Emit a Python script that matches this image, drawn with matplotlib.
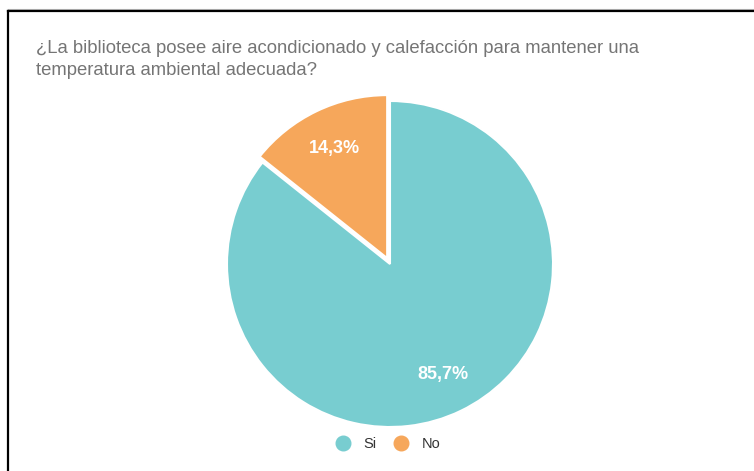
import matplotlib
matplotlib.use("Agg")
from matplotlib import pyplot as plt
from matplotlib.lines import Line2D

plt.rcParams['font.family'] = ['Liberation Sans', 'DejaVu Sans']

TITLE = "¿La biblioteca posee aire acondicionado y calefacción para mantener una\ntemperatura ambiental adecuada?"
labels = ["Si", "No"]
values = [85.7, 14.3]
colors = ["#78CDD0", "#F6A75B"]
explode = [0, 0.04]

W, H = 754, 471
fig = plt.figure(figsize=(W / 100, H / 100), dpi=100)

# pie centre and radius in pixels
cx, cy, r = 390, 264, 163
ax = fig.add_axes([(cx - r) / W, (H - cy - r) / H, 2 * r / W, 2 * r / H])

wedges, texts, autotexts = ax.pie(
    values,
    colors=colors,
    explode=explode,
    startangle=90,
    counterclock=False,
    autopct=lambda p: f"{p:.1f}%".replace(".", ","),
    pctdistance=0.75,
    wedgeprops=dict(edgecolor="white", linewidth=1.5),
    textprops=dict(color="white", fontsize=13, fontweight="bold"),
)
ax.set_xlim(-1, 1)
ax.set_ylim(-1, 1)
ax.set_aspect("equal")
ax.axis("off")

fig.text(36 / W, 1 - 40 / H, TITLE, color="#757575", fontsize=13.3,
         va="top", ha="left", linespacing=1.38)

handles = [Line2D([], [], marker="o", linestyle="", markersize=10.5,
                  markerfacecolor=c, markeredgecolor=c) for c in colors]
fig.legend(handles, labels, loc="center", bbox_to_anchor=(384.5 / W, 1 - 444 / H),
           ncol=2, frameon=False, fontsize=10.5, handletextpad=0.4,
           columnspacing=0.7, labelcolor="#333333")

# frame lines of the screenshot
fig.add_artist(Line2D([7.5 / W, 1], [1 - 8.5 / H, 1 - 8.5 / H], color="#BBBBBB", linewidth=0.8))
fig.add_artist(Line2D([7.5 / W, 1], [1 - 10.8 / H, 1 - 10.8 / H], color="black", linewidth=1.6))
fig.add_artist(Line2D([7.5 / W, 7.5 / W], [0, 1 - 10.8 / H], color="black", linewidth=1.6))

fig.savefig("out.png", dpi=100)
